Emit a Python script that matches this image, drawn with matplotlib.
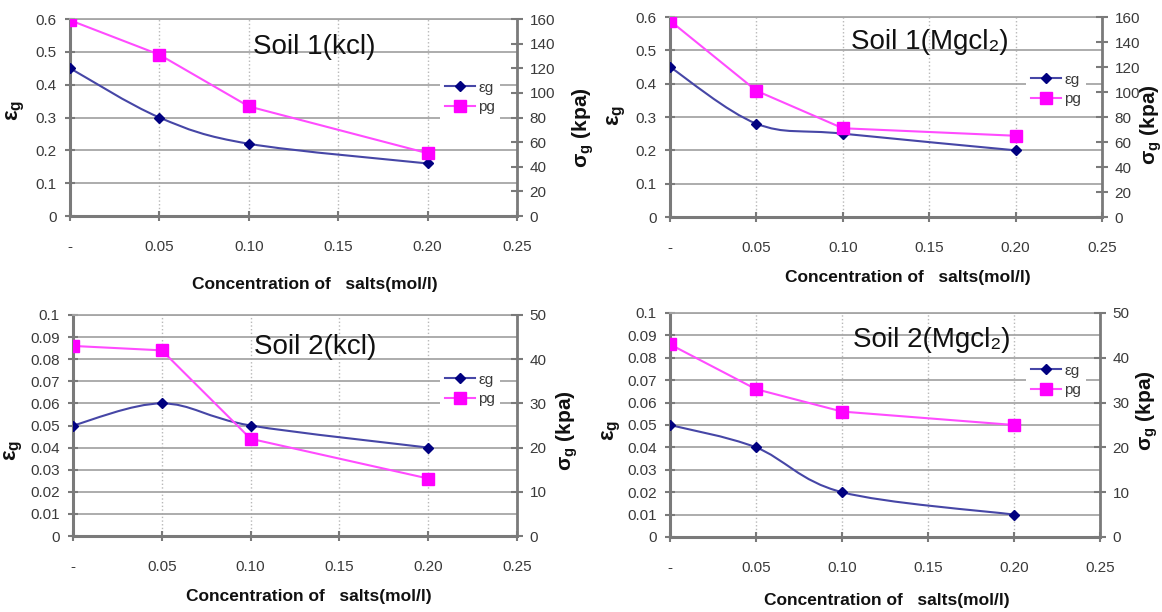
import matplotlib
matplotlib.use("Agg")
import matplotlib.pyplot as plt
from matplotlib.path import Path
from matplotlib.patches import PathPatch
from matplotlib.lines import Line2D

plt.rcParams['font.family'] = ['Liberation Sans', 'DejaVu Sans']

# salt concentration (mol/l)
conc = [0.0, 0.05, 0.10, 0.20]
xticks = [0.0, 0.05, 0.10, 0.15, 0.20, 0.25]
xticklabels = ['-', '0.05', '0.10', '0.15', '0.20', '0.25']

soil1_kcl_eps = [0.45, 0.30, 0.22, 0.16]
soil1_kcl_sig = [159, 131, 89, 51]
soil1_mg_eps = [0.45, 0.28, 0.25, 0.20]
soil1_mg_sig = [157, 101, 71, 65]
soil2_kcl_eps = [0.05, 0.06, 0.05, 0.04]
soil2_kcl_sig = [43, 42, 22, 13]
soil2_mg_eps = [0.05, 0.04, 0.02, 0.01]
soil2_mg_sig = [43, 33, 28, 25]

titles = ['Soil 1(kcl)', 'Soil 1(Mgcl\u2082)', 'Soil 2(kcl)', 'Soil 2(Mgcl\u2082)']
legend_labels = ['\u03b5g', 'pg']

W, H = 1162, 612
BLUE_LINE = '#4646a6'
BLUE_MARK = '#000080'
PINK = '#ff00ff'
PINK_LINE = '#ff4cff'
GRID = '#a6a6a6'
SPINE = '#7a7a7a'
TXT = '#3a3a3a'


def smooth_path(xs, ys):
    # excel style smoothed line (catmull-rom as bezier)
    pts = list(zip(xs, ys))
    n = len(pts)
    verts = [pts[0]]
    codes = [Path.MOVETO]
    for i in range(n - 1):
        p0 = pts[max(i - 1, 0)]
        p1 = pts[i]
        p2 = pts[i + 1]
        p3 = pts[min(i + 2, n - 1)]
        c1 = (p1[0] + (p2[0] - p0[0]) / 6., p1[1] + (p2[1] - p0[1]) / 6.)
        c2 = (p2[0] - (p3[0] - p1[0]) / 6., p2[1] - (p3[1] - p1[1]) / 6.)
        verts += [c1, c2, p2]
        codes += [Path.CURVE4] * 3
    return Path(verts, codes)


def px_axes(fig, left, right, top, bottom):
    return fig.add_axes([left / W, 1 - bottom / H, (right - left) / W, (bottom - top) / H])


def fig_text(fig, x, y, s, **kw):
    return fig.text(x / W, 1 - y / H, s, ha='center', va='center', **kw)


def panel(fig, box, eps, sig, ylim, yticks, ylabels, sig_max, sig_step,
          title, title_xy, xlab_xy, eps_xy, sig_xy, leg_xy):
    ax = px_axes(fig, *box)
    ax.set_xlim(0, 0.25)
    ax.set_ylim(*ylim)
    ax.set_xticks(xticks)
    ax.set_xticklabels(xticklabels)
    ax.set_yticks(yticks)
    ax.set_yticklabels(ylabels)
    ax.grid(axis='y', color=GRID, linewidth=1.3, linestyle='-')
    ax.grid(axis='x', color='#b8b8b8', linewidth=1.0, linestyle=':')
    ax.set_axisbelow(True)
    for s in ['left', 'bottom']:
        ax.spines[s].set_color(SPINE)
        ax.spines[s].set_linewidth(2.2)
    ax.spines['top'].set_color(GRID)
    ax.spines['top'].set_linewidth(1.3)
    ax.spines['right'].set_visible(False)
    ax.tick_params(axis='both', direction='inout', length=7, width=1.5, color=SPINE,
                   labelsize=11, labelcolor=TXT)
    ax.tick_params(axis='x', pad=14)
    ax.tick_params(axis='y', pad=6)

    ax.add_patch(PathPatch(smooth_path(conc, eps), fill=False, edgecolor=BLUE_LINE,
                           linewidth=1.5, zorder=3))
    ax.plot(conc, eps, linestyle='none', marker='D', ms=5, color=BLUE_MARK, zorder=4)

    ax2 = ax.twinx()
    ax2.set_ylim(0, sig_max)
    ax2.set_yticks(range(0, sig_max + 1, sig_step))
    for s in ['left', 'bottom', 'top']:
        ax2.spines[s].set_visible(False)
    ax2.spines['right'].set_color(SPINE)
    ax2.spines['right'].set_linewidth(2.0)
    ax2.tick_params(axis='y', direction='inout', length=8, width=1.5, color=SPINE,
                    labelsize=11, labelcolor=TXT, pad=5)
    ax2.plot(conc, sig, color=PINK_LINE, linewidth=1.5, marker='s', ms=8,
             markerfacecolor=PINK, markeredgecolor=PINK, zorder=4)

    h1 = Line2D([], [], color=BLUE_LINE, linewidth=1.5, marker='D', ms=5,
                markerfacecolor=BLUE_MARK, markeredgecolor=BLUE_MARK)
    h2 = Line2D([], [], color=PINK_LINE, linewidth=1.5, marker='s', ms=8,
                markerfacecolor=PINK, markeredgecolor=PINK)
    leg = ax2.legend([h1, h2], legend_labels, loc='upper left',
                     bbox_to_anchor=(leg_xy[0] / W, 1 - leg_xy[1] / H),
                     bbox_transform=fig.transFigure, frameon=True, fancybox=False,
                     framealpha=1, facecolor='white', edgecolor='none',
                     fontsize=11, handlelength=2.0, handletextpad=0.2,
                     labelspacing=0.35, borderpad=0.3, borderaxespad=0)
    for t in leg.get_texts():
        t.set_color(TXT)

    fig_text(fig, title_xy[0], title_xy[1], title, fontsize=20, color='#111111')
    fig_text(fig, xlab_xy[0], xlab_xy[1], 'Concentration of   salts(mol/l)',
             fontsize=12.5, fontweight='bold', color='#111111')
    fig_text(fig, eps_xy[0], eps_xy[1], '\u03b5$_\\mathregular{g}$', fontsize=16,
             fontweight='bold', rotation=90, color='#111111')
    fig_text(fig, sig_xy[0], sig_xy[1], '\u03c3$_\\mathregular{g}$ (kpa)', fontsize=15,
             fontweight='bold', rotation=90, color='#111111')
    return ax, ax2


fig = plt.figure(figsize=(W / 100., H / 100.), dpi=100)

top_ticks = [0, 0.1, 0.2, 0.3, 0.4, 0.5, 0.6]
top_labels = ['0', '0.1', '0.2', '0.3', '0.4', '0.5', '0.6']
bot_ticks = [i / 100. for i in range(11)]
bot_labels = ['0'] + ['0.%02d' % i for i in range(1, 10)] + ['0.1']

panel(fig, (70, 517, 19, 216), soil1_kcl_eps, soil1_kcl_sig, (0, 0.6), top_ticks, top_labels,
      160, 20, titles[0], (314, 47), (315, 285), (16, 110), (583, 128), (440, 76))
panel(fig, (670, 1102, 17, 217), soil1_mg_eps, soil1_mg_sig, (0, 0.6), top_ticks, top_labels,
      160, 20, titles[1], (930, 42), (908, 278), (617, 115), (1151, 125), (1026, 68))
panel(fig, (73, 517, 315, 536), soil2_kcl_eps, soil2_kcl_sig, (0, 0.1), bot_ticks, bot_labels,
      50, 10, titles[2], (315, 347), (309, 597), (14, 450), (567, 431), (440, 368))
panel(fig, (670, 1100, 313, 537), soil2_mg_eps, soil2_mg_sig, (0, 0.1), bot_ticks, bot_labels,
      50, 10, titles[3], (932, 340), (887, 600), (612, 430), (1147, 411), (1026, 359))

fig.savefig('out.png', dpi=100, facecolor='white')
